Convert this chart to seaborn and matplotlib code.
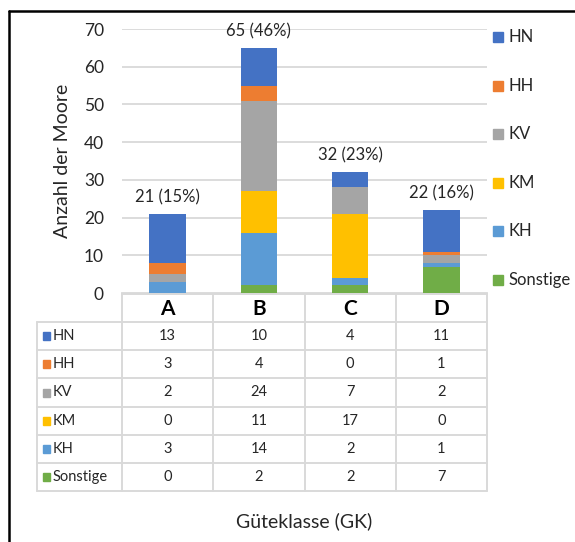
import numpy as np
import pandas as pd
import matplotlib
matplotlib.use("Agg")
import matplotlib.pyplot as plt
from matplotlib.lines import Line2D
from matplotlib.patches import Rectangle
import seaborn as sns

# ---- data ----
classes = ["A", "B", "C", "D"]
series = ["HN", "HH", "KV", "KM", "KH", "Sonstige"]   # legend / table order (top to bottom)
HN = [13, 10, 4, 11]
HH = [3, 4, 0, 1]
KV = [2, 24, 7, 2]
KM = [0, 11, 17, 0]
KH = [3, 14, 2, 1]
Sonstige = [0, 2, 2, 7]
colors = {"HN": "#4472C4", "HH": "#ED7D31", "KV": "#A5A5A5",
          "KM": "#FFC000", "KH": "#5B9BD5", "Sonstige": "#70AD47"}
y_ticks = [0, 10, 20, 30, 40, 50, 60, 70]

values = {"HN": HN, "HH": HH, "KV": KV, "KM": KM, "KH": KH, "Sonstige": Sonstige}

sns.set_theme(style="white")
FONT = ["Lato", "DejaVu Sans"]
plt.rcParams["font.family"] = FONT
TXT = "#262626"

W, H = 575, 542
fig = plt.figure(figsize=(W / 100, H / 100), dpi=100)

def fx(px):
    return px / W

def fy(py):
    return 1 - py / H

# main axes
L, R, T, B = 122, 487, 29, 293
ax = fig.add_axes([fx(L), fy(B), fx(R - L), (B - T) / H])

# stacked bars: draw cumulative totals from top layer down
stack_order = ["Sonstige", "KH", "KM", "KV", "HH", "HN"]  # bottom -> top
df = pd.DataFrame(values, index=classes)
cum = df[stack_order].cumsum(axis=1)
for s in reversed(stack_order):
    sns.barplot(x=classes, y=cum[s].values, color=colors[s], width=0.4,
                saturation=1, ax=ax, zorder=3, edgecolor="none")

ax.set_ylim(0, 70)
ax.set_xlim(-0.5, 3.5)
ax.set_yticks(y_ticks)
ax.set_yticklabels([str(t) for t in y_ticks], fontsize=12.5, color=TXT)
ax.set_xticks([])
ax.tick_params(axis="y", length=0, pad=13)
ax.grid(False)
for t in y_ticks[1:]:
    ax.axhline(t, color="#D9D9D9", lw=1.3, zorder=1)
for sp in ["top", "right", "left"]:
    ax.spines[sp].set_visible(False)
ax.spines["bottom"].set_color("#D9D9D9")
ax.spines["bottom"].set_linewidth(1.3)
ax.set_ylabel("Anzahl der Moore", fontsize=14, color=TXT, labelpad=9)
ax.set_xlabel("")

# totals labels
totals = df.sum(axis=1)
grand = totals.sum()
for i, c in enumerate(classes):
    tot = int(totals[c])
    ax.text(i, tot + 2.3, f"{tot} ({round(100 * tot / grand):d}%)",
            ha="center", va="bottom", fontsize=12, color=TXT)

# legend at right
leg_y = [37, 86, 134, 183, 231, 280]
for s, yy in zip(series, leg_y):
    fig.add_artist(Rectangle((fx(493), fy(yy + 5)), fx(10), 10 / H,
                             color=colors[s], transform=fig.transFigure))
    fig.text(fx(508), fy(yy), s, fontsize=12, color=TXT,
             va="center", ha="left")

# data table
tab = fig.add_axes([0, 0, 1, 1], facecolor="none")
tab.set_xlim(0, W)
tab.set_ylim(H, 0)
tab.axis("off")
gcol = "#D9D9D9"
col_edges = [L + (R - L) * k / 4 for k in range(5)]
hdr_top, hdr_bot = 294, 322
row_h = 28.2
row_edges = [hdr_bot + row_h * k for k in range(len(series) + 1)]
rowhdr_left = 37
lw = 1.4
# horizontal lines
tab.plot([L, R], [hdr_top, hdr_top], color=gcol, lw=lw)
for ye in row_edges:
    tab.plot([rowhdr_left, R], [ye, ye], color=gcol, lw=lw)
# vertical lines
for xe in col_edges:
    tab.plot([xe, xe], [hdr_top, row_edges[-1]], color=gcol, lw=lw)
tab.plot([rowhdr_left, rowhdr_left], [hdr_bot, row_edges[-1]], color=gcol, lw=lw)
# header
for k, c in enumerate(classes):
    xc = (col_edges[k] + col_edges[k + 1]) / 2
    tab.text(xc, (hdr_top + hdr_bot) / 2 + 1, c, ha="center", va="center",
             fontsize=15, fontweight="bold", color="black")
# rows
for r, s in enumerate(series):
    yc = (row_edges[r] + row_edges[r + 1]) / 2
    tab.add_patch(Rectangle((43, yc - 4), 7, 8, color=colors[s]))
    tab.text(53, yc, s, ha="left", va="center", fontsize=10.5, color=TXT)
    for k, c in enumerate(classes):
        xc = (col_edges[k] + col_edges[k + 1]) / 2
        tab.text(xc, yc, str(values[s][k]), ha="center", va="center",
                 fontsize=10.5, color=TXT)

tab.text((L + R) / 2, 521, "Güteklasse (GK)", ha="center", va="center",
         fontsize=14, color=TXT)

# outer frame (left and top visible)
fig.add_artist(Line2D([fx(9), fx(9)], [0, fy(11)], color="black", lw=1.8,
                      transform=fig.transFigure))
fig.add_artist(Line2D([fx(9), 1], [fy(11), fy(11)], color="black", lw=1.8,
                      transform=fig.transFigure))

fig.savefig("out.png", dpi=100)
